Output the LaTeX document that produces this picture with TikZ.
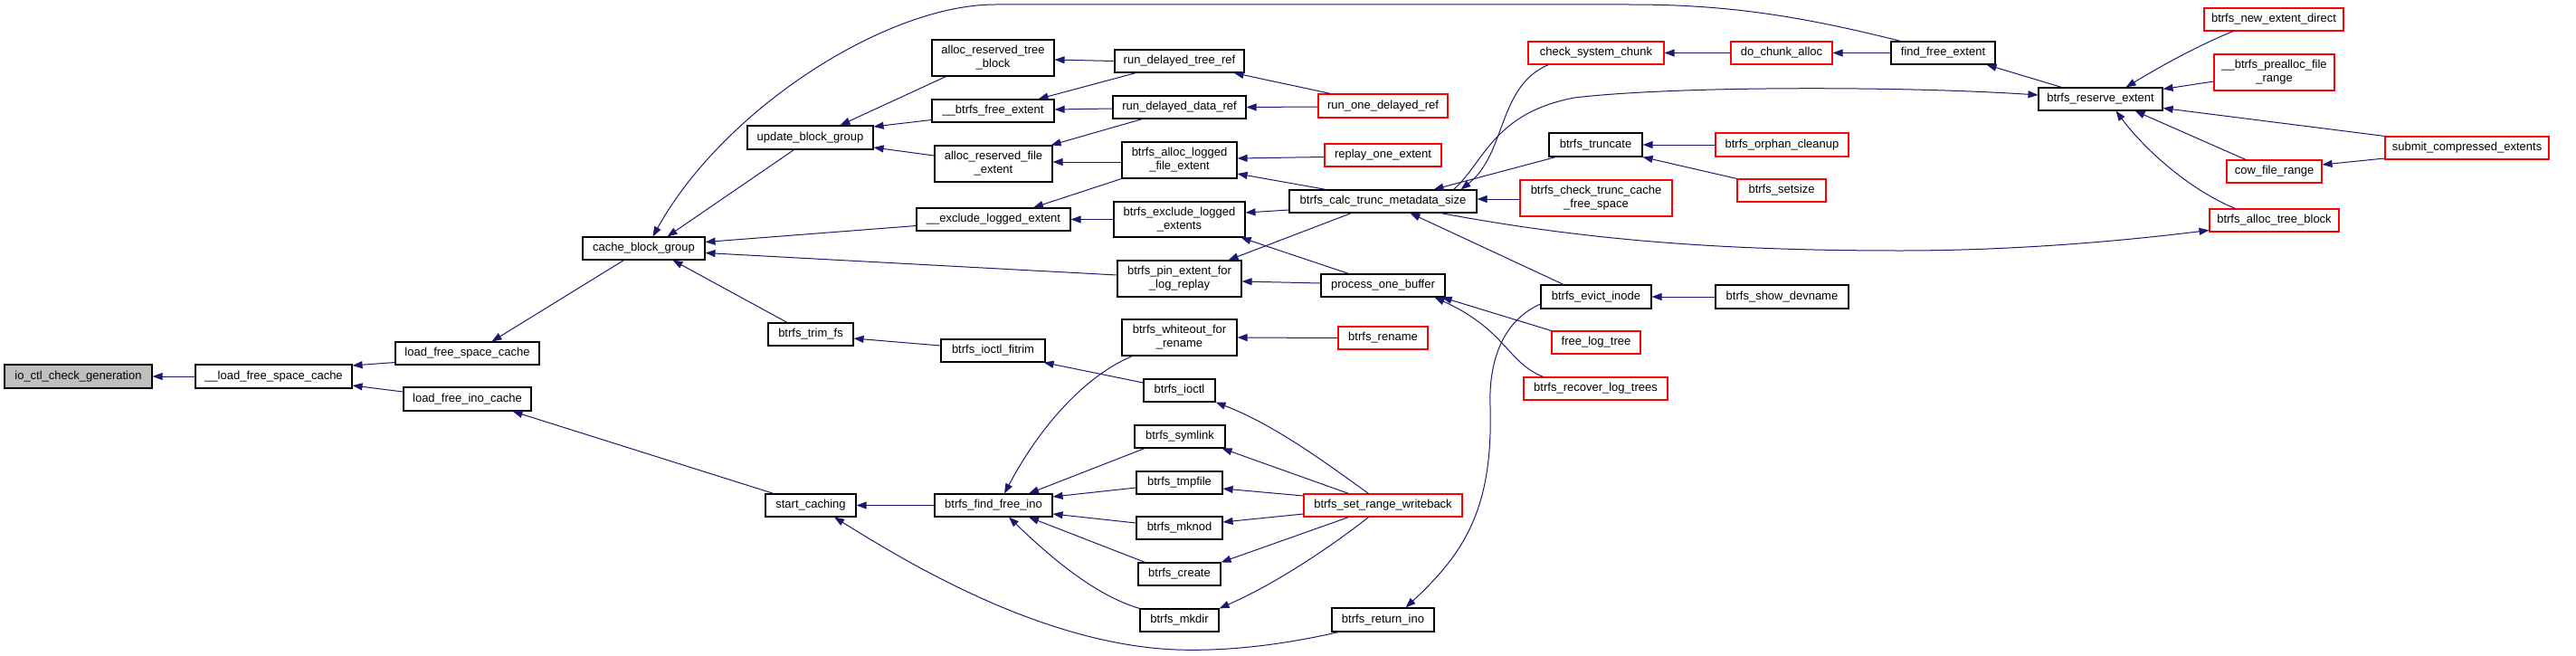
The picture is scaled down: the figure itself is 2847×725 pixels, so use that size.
\documentclass[tikz,border=0pt]{standalone}
\usepackage{fontspec}
\setmainfont{Liberation Sans}
\usetikzlibrary{arrows.meta}
\definecolor{mb}{HTML}{191970}
\definecolor{nodegray}{HTML}{BFBFBF}
\newcommand\fnode[7]{%
 \pgfmathsetmacro\fw{#4-#2}\pgfmathsetmacro\fh{#5-#3}%
 \pgfmathsetmacro\fx{(#2+#4)/2}\pgfmathsetmacro\fy{(#3+#5)/2}%
 \node[#6, minimum width=\fw pt, minimum height=\fh pt] (#1) at (\fx,\fy) {#7};}
\begin{document}
\begin{tikzpicture}[x=1pt,y=-1pt,
 fn/.style={draw=black, line width=1.1pt, inner sep=0pt, align=center, font=\fontsize{13}{15}\selectfont},
 rn/.style={fn, draw=red},
 gn/.style={fn, fill=nodegray},
 cal/.style={draw=mb, line width=1pt, -{Triangle[length=11pt,width=8pt]}}]
\useasboundingbox (0,0) rectangle (2847,725);
% nodes
\fnode{io}{5}{403}{168}{429}{gn}{io\_ctl\_check\_generation}
\fnode{lfsctwo}{216}{403}{389}{429}{fn}{\_\_load\_free\_space\_cache}
\fnode{lfsc}{437}{378}{596}{403}{fn}{load\_free\_space\_cache}
\fnode{lfic}{446}{428}{587}{454}{fn}{load\_free\_ino\_cache}
\fnode{cbg}{644}{262}{779}{287}{fn}{cache\_block\_group}
\fnode{ubg}{826}{139}{965}{165}{fn}{update\_block\_group}
\fnode{trim}{849}{357}{943}{382}{fn}{btrfs\_trim\_fs}
\fnode{sc}{846}{546}{946}{571}{fn}{start\_caching}
\fnode{artb}{1030}{44}{1165}{84}{fn}{alloc\_reserved\_tree\\\_block}
\fnode{bfe}{1030}{110}{1165}{135}{fn}{\_\_btrfs\_free\_extent}
\fnode{arfe}{1033}{161}{1163}{201}{fn}{alloc\_reserved\_file\\\_extent}
\fnode{ele}{1013}{230}{1183}{255}{fn}{\_\_exclude\_logged\_extent}
\fnode{fitrim}{1040}{375}{1155}{400}{fn}{btrfs\_ioctl\_fitrim}
\fnode{ffi}{1033}{546}{1163}{571}{fn}{btrfs\_find\_free\_ino}
\fnode{rdtr}{1232}{55}{1375}{80}{fn}{run\_delayed\_tree\_ref}
\fnode{rddr}{1230}{106}{1377}{131}{fn}{run\_delayed\_data\_ref}
\fnode{balfe}{1240}{157}{1367}{197}{fn}{btrfs\_alloc\_logged\\\_file\_extent}
\fnode{bele}{1231}{223}{1376}{262}{fn}{btrfs\_exclude\_logged\\\_extents}
\fnode{pin}{1235}{288}{1372}{328}{fn}{btrfs\_pin\_extent\_for\\\_log\_replay}
\fnode{wfr}{1240}{353}{1367}{393}{fn}{btrfs\_whiteout\_for\\\_rename}
\fnode{ioctl}{1264}{419}{1343}{444}{fn}{btrfs\_ioctl}
\fnode{symlink}{1254}{470}{1354}{495}{fn}{btrfs\_symlink}
\fnode{tmpfile}{1256}{521}{1351}{546}{fn}{btrfs\_tmpfile}
\fnode{mknod}{1256}{571}{1351}{596}{fn}{btrfs\_mknod}
\fnode{create}{1258}{622}{1349}{647}{fn}{btrfs\_create}
\fnode{mkdir}{1260}{673}{1347}{698}{fn}{btrfs\_mkdir}
\fnode{rodr}{1457}{104}{1600}{130}{rn}{run\_one\_delayed\_ref}
\fnode{roe}{1464}{159}{1593}{184}{rn}{replay\_one\_extent}
\fnode{calc}{1425}{210}{1632}{235}{fn}{btrfs\_calc\_trunc\_metadata\_size}
\fnode{pob}{1460}{303}{1597}{328}{fn}{process\_one\_buffer}
\fnode{rename}{1479}{361}{1578}{386}{rn}{btrfs\_rename}
\fnode{srw}{1441}{546}{1616}{571}{rn}{btrfs\_set\_range\_writeback}
\fnode{ret}{1472}{672}{1585}{698}{fn}{btrfs\_return\_ino}
\fnode{csc}{1689}{46}{1839}{71}{rn}{check\_system\_chunk}
\fnode{trunc}{1712}{147}{1815}{173}{fn}{btrfs\_truncate}
\fnode{ctcfs}{1680}{199}{1848}{239}{rn}{btrfs\_check\_trunc\_cache\\\_free\_space}
\fnode{evict}{1703}{315}{1825}{341}{fn}{btrfs\_evict\_inode}
\fnode{flt}{1715}{366}{1813}{391}{rn}{free\_log\_tree}
\fnode{rlt}{1684}{417}{1843}{442}{rn}{btrfs\_recover\_log\_trees}
\fnode{dca}{1913}{46}{2025}{71}{rn}{do\_chunk\_alloc}
\fnode{ffe}{2090}{46}{2205}{71}{fn}{find\_free\_extent}
\fnode{orphan}{1896}{147}{2043}{173}{rn}{btrfs\_orphan\_cleanup}
\fnode{setsize}{1920}{198}{2018}{223}{rn}{btrfs\_setsize}
\fnode{devname}{1896}{315}{2043}{341}{fn}{btrfs\_show\_devname}
\fnode{bre}{2253}{97}{2390}{122}{fn}{btrfs\_reserve\_extent}
\fnode{ned}{2436}{9}{2590}{34}{rn}{btrfs\_new\_extent\_direct}
\fnode{prealloc}{2447}{60}{2580}{100}{rn}{\_\_btrfs\_prealloc\_file\\\_range}
\fnode{sce}{2636}{151}{2817}{176}{rn}{submit\_compressed\_extents}
\fnode{cfr}{2461}{177}{2566}{202}{rn}{cow\_file\_range}
\fnode{atb}{2442}{231}{2585}{256}{rn}{btrfs\_alloc\_tree\_block}
% edges
\draw[cal] (lfsctwo.west) -- (io.east);
\draw[cal] ([shift={(0,10)}]lfsc.west) -- ([shift={(0,-12)}]lfsctwo.east);
\draw[cal] ([shift={(0,-8)}]lfic.west) -- ([shift={(0,10)}]lfsctwo.east);
\draw[cal] ([shift={(-22,0)}]cbg.south) -- ([shift={(27,0)}]lfsc.north);
\draw[cal] ([shift={(-41,0)}]sc.north) -- ([shift={(50,0)}]lfic.south);
\draw[cal] ([shift={(-47,0)}]ffe.north) .. controls (1980,15) and (1900,5) .. (1800,5) -- (1100,5) .. controls (980,5) and (800,120) .. ([shift={(10,0)}]cbg.north);
\draw[cal] ([shift={(-18,0)}]ubg.south) -- ([shift={(26,0)}]cbg.north);
\draw[cal] ([shift={(0,7)}]ele.west) -- ([shift={(0,-7)}]cbg.east);
\draw[cal] ([shift={(0,-4)}]pin.west) -- ([shift={(0,5)}]cbg.east);
\draw[cal] ([shift={(-26,0)}]trim.north) -- ([shift={(32,0)}]cbg.south);
\draw[cal] ([shift={(-52,0)}]artb.south) -- ([shift={(33,0)}]ubg.north);
\draw[cal] ([shift={(0,10)}]bfe.west) -- ([shift={(0,-12)}]ubg.east);
\draw[cal] ([shift={(0,-9)}]arfe.west) -- ([shift={(0,11)}]ubg.east);
\draw[cal] (rdtr.west) -- ([shift={(0,2)}]artb.east);
\draw[cal] ([shift={(-48,0)}]rdtr.south) -- ([shift={(50,0)}]bfe.north);
\draw[cal] ([shift={(0,1.5)}]rddr.west) -- ([shift={(0,-1.5)}]bfe.east);
\draw[cal] ([shift={(-41,0)}]rddr.south) -- ([shift={(-2,0)}]arfe.north east);
\draw[cal] ([shift={(0,2)}]balfe.west) -- ([shift={(0,-2)}]arfe.east);
\draw[cal] (balfe.south west) -- ([shift={(44,0)}]ele.north);
\draw[cal] (bele.west) -- (ele.east);
\draw[cal] ([shift={(-58,0)}]rodr.north) -- ([shift={(-12,0)}]rdtr.south east);
\draw[cal] ([shift={(0,1)}]rodr.west) -- (rddr.east);
\draw[cal] ([shift={(0,2)}]roe.west) -- ([shift={(0,-2)}]balfe.east);
\draw[cal] ([shift={(-63,0)}]calc.north) -- ([shift={(0,15)}]balfe.east);
\draw[cal] ([shift={(0,9.5)}]calc.west) -- ([shift={(0,-7.5)}]bele.east);
\draw[cal] ([shift={(-35,0)}]calc.south) -- ([shift={(-15,0)}]pin.north east);
\draw[cal] ([shift={(-38,0)}]pob.north) -- ([shift={(-5,0)}]bele.south east);
\draw[cal] ([shift={(0,-2.5)}]pob.west) -- ([shift={(0,3)}]pin.east);
\draw[cal] ([shift={(23,0)}]csc.south west) .. controls (1655,95) and (1665,170) .. ([shift={(86,0)}]calc.north);
\draw[cal] ([shift={(78,0)}]calc.north) .. controls (1640,180) and (1650,125) .. (1740,108) .. controls (1850,95) and (2100,95) .. ([shift={(0,-4.5)}]bre.west);
\draw[cal] ([shift={(8,0)}]trunc.south west) -- ([shift={(56,0)}]calc.north);
\draw[cal] ([shift={(0,1)}]ctcfs.west) -- ([shift={(0,-2.5)}]calc.east);
\draw[cal] ([shift={(64,0)}]calc.south) .. controls (1750,265) and (1900,277) .. (2100,277) .. controls (2250,277) and (2380,262) .. ([shift={(0,11)}]atb.west);
\draw[cal] ([shift={(-43,0)}]bre.north) -- ([shift={(-10,0)}]ffe.south east);
\draw[cal] (ffe.west) -- (dca.east);
\draw[cal] (dca.west) -- (csc.east);
\draw[cal] ([shift={(-43,0)}]atb.north) .. controls (2420,210) and (2370,165) .. ([shift={(17,0)}]bre.south);
\draw[cal] ([shift={(-45,0)}]ned.south) .. controls (2430,50) and (2390,72) .. ([shift={(28,0)}]bre.north);
\draw[cal] ([shift={(0,10)}]prealloc.west) -- ([shift={(0,-11)}]bre.east);
\draw[cal] (sce.north west) -- ([shift={(0,10)}]bre.east);
\draw[cal] ([shift={(-31.5,0)}]cfr.north) -- ([shift={(38,0)}]bre.south);
\draw[cal] ([shift={(0,11.5)}]sce.west) -- ([shift={(0,-7.5)}]cfr.east);
\draw[cal] (orphan.west) -- (trunc.east);
\draw[cal] (setsize.north west) -- (trunc.south east);
\draw[cal] ([shift={(-36,0)}]evict.north) -- ([shift={(30,0)}]calc.south);
\draw[cal] (devname.west) -- (evict.east);
\draw[cal] (flt.north west) -- ([shift={(-4,0)}]pob.south east);
\draw[cal] ([shift={(-58,0)}]rlt.north) .. controls (1665,400) and (1665,365) .. ([shift={(57,0)}]pob.south);
\draw[cal] ([shift={(0,8)}]evict.west) .. controls (1660,355) and (1645,400) .. (1647,450) .. controls (1650,560) and (1620,610) .. ([shift={(25,0)}]ret.north);
\draw[cal] ([shift={(8,0)}]ret.south west) .. controls (1420,712) and (1360,720) .. (1300,718) .. controls (1150,712) and (1000,620) .. ([shift={(26,0)}]sc.south);
\draw[cal] (ffi.west) -- (sc.east);
\draw[cal] ([shift={(0,-5.5)}]fitrim.west) -- ([shift={(0,4.5)}]trim.east);
\draw[cal] ([shift={(0,-8.5)}]ioctl.west) -- ([shift={(-2,0)}]fitrim.south east);
\draw[cal] ([shift={(12,0)}]wfr.south west) .. controls (1200,415) and (1150,470) .. ([shift={(12,0)}]ffi.north);
\draw[cal] ([shift={(-39,0)}]symlink.south) -- ([shift={(39,0)}]ffi.north);
\draw[cal] ([shift={(0,5.5)}]tmpfile.west) -- ([shift={(0,-9.5)}]ffi.east);
\draw[cal] ([shift={(0,-5.5)}]mknod.west) -- ([shift={(0,9.5)}]ffi.east);
\draw[cal] ([shift={(-38,0)}]create.north) -- ([shift={(39,0)}]ffi.south);
\draw[cal] (mkdir.north west) .. controls (1210,658) and (1160,615) .. ([shift={(17,0)}]ffi.south);
\draw[cal] (rename.west) -- (wfr.east);
\draw[cal] ([shift={(-16,0)}]srw.north) .. controls (1470,515) and (1410,470) .. (ioctl.south east);
\draw[cal] ([shift={(-38,0)}]srw.north) -- ([shift={(-4,0)}]symlink.south east);
\draw[cal] ([shift={(0,-10.5)}]srw.west) -- ([shift={(0,6.5)}]tmpfile.east);
\draw[cal] ([shift={(0,9.5)}]srw.west) -- ([shift={(0,-6.5)}]mknod.east);
\draw[cal] ([shift={(-38,0)}]srw.south) -- (create.north east);
\draw[cal] ([shift={(-16,0)}]srw.south) .. controls (1470,605) and (1410,645) .. (mkdir.north east);
\end{tikzpicture}
\end{document}
